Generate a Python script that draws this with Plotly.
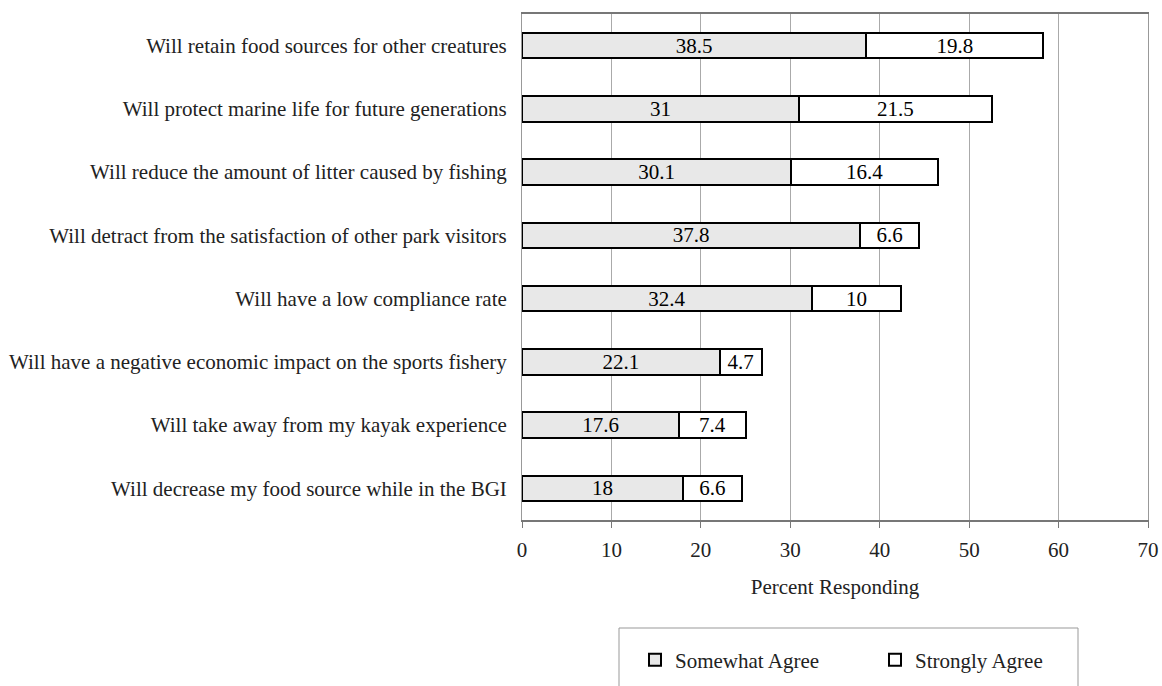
import plotly.graph_objects as go

# Survey statements (top to bottom) and percentage responses
statements = [
    "Will retain food sources for other creatures",
    "Will protect marine life for future generations",
    "Will reduce the amount of litter caused by fishing",
    "Will detract from the satisfaction of other park visitors",
    "Will have a low compliance rate",
    "Will have a negative economic impact on the sports fishery",
    "Will take away from my kayak experience",
    "Will decrease my food source while in the BGI",
]
somewhat_agree = [38.5, 31, 30.1, 37.8, 32.4, 22.1, 17.6, 18]
strongly_agree = [19.8, 21.5, 16.4, 6.6, 10, 4.7, 7.4, 6.6]

FONT = "Liberation Serif, Times New Roman, serif"

W, H = 1162, 686
L, R, T, B = 522, 14, 14, 166
pw, ph = W - L - R, H - T - B


def px_x(p):
    return (p - L) / pw


def px_y(p):
    return (H - B - p) / ph


fig = go.Figure()
fig.add_trace(go.Bar(
    y=statements, x=somewhat_agree, orientation="h", name="Somewhat Agree",
    marker=dict(color="#e8e8e8", line=dict(color="black", width=2)),
    text=[f"{v:g}" for v in somewhat_agree], textposition="inside",
    insidetextanchor="middle", textangle=0, constraintext="none",
    textfont=dict(family=FONT, size=21, color="black"),
))
fig.add_trace(go.Bar(
    y=statements, x=strongly_agree, orientation="h", name="Strongly Agree",
    marker=dict(color="white", line=dict(color="black", width=2)),
    text=[f"{v:g}" for v in strongly_agree], textposition="inside",
    insidetextanchor="middle", textangle=0, constraintext="none",
    textfont=dict(family=FONT, size=21, color="black"),
))

fig.update_layout(
    width=W, height=H,
    margin=dict(l=L, r=R, t=T, b=B, pad=0, autoexpand=False),
    barmode="stack", bargap=0.6,
    plot_bgcolor="white", paper_bgcolor="white",
    font=dict(family=FONT, size=20, color="#222"),
    showlegend=True,
    legend=dict(
        orientation="h", x=px_x(635), y=px_y(660), xanchor="left", yanchor="middle",
        font=dict(family=FONT, size=21, color="#222"),
        entrywidth=195, itemwidth=30, bgcolor="rgba(0,0,0,0)",
        traceorder="normal",
    ),
    xaxis=dict(
        range=[0, 70], dtick=10, showgrid=True, gridcolor="#aaaaaa", gridwidth=1,
        ticks="outside", ticklen=6, tickcolor="#777", ticklabelstandoff=4,
        showline=True, linecolor="#777", linewidth=2, mirror=True,
        zeroline=False,
        title=dict(text="Percent Responding", standoff=18,
                   font=dict(family=FONT, size=21, color="#222")),
        tickfont=dict(family=FONT, size=21, color="#222"),
    ),
    yaxis=dict(
        autorange="reversed", showgrid=False, ticks="", ticklabelstandoff=10,
        showline=True, linecolor="#999", linewidth=1, mirror=True,
        tickfont=dict(family=FONT, size=21, color="#222"),
    ),
    shapes=[dict(
        type="rect", xref="paper", yref="paper",
        x0=px_x(619), x1=px_x(1078), y0=px_y(700), y1=px_y(628),
        line=dict(color="#999", width=1), fillcolor="rgba(0,0,0,0)",
    )],
)

fig.write_html("out.html")
